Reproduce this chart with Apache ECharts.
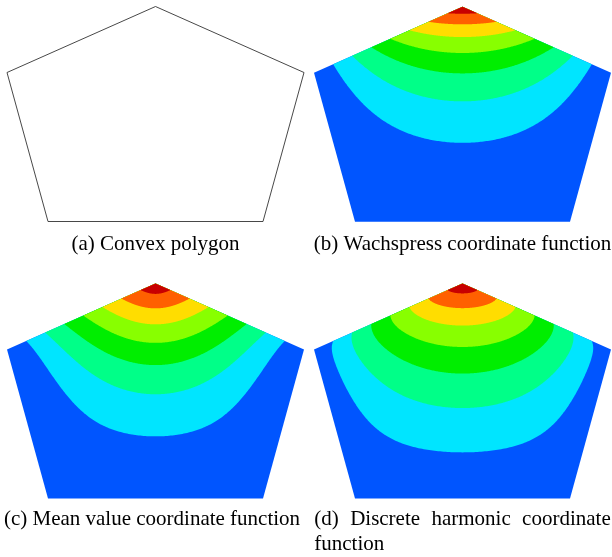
<!DOCTYPE html>
<html>
<head>
<meta charset="utf-8">
<script src="https://cdn.jsdelivr.net/npm/echarts@6/dist/echarts.min.js"></script>
<style>
  html, body { margin: 0; padding: 0; background: #fff; }
  #chart { width: 612px; height: 557px; }
</style>
</head>
<body>
<div id="chart"></div>
<script>
// Pentagon vertices (counter-clockwise, starting at the top vertex whose coordinate function is shown)
const vertexX = [148.5, 0, 41, 256, 297];
const vertexY = [215, 149, 0, 0, 149];

// Contour levels of the coordinate function and the fill colour of each band (lowest band first)
const contourLevels = [0.129, 0.257, 0.386, 0.514, 0.643, 0.771, 0.9];
const bandColors = ['#0055ff', '#00e5ff', '#00ff88', '#00ee00', '#88ff00', '#ffdd00', '#ff6000', '#c80000'];

// Exponent p of the three-point family: 0 Wachspress, 1 mean value, 2 discrete harmonic
const panelExponents = [0, 1, 2];

// Captions
const captionA = '(a) Convex polygon';
const captionB = '(b) Wachspress coordinate function';
const captionC = '(c) Mean value coordinate function';
const captionDWords = ['(d)', 'Discrete', 'harmonic', 'coordinate'];
const captionDLast = 'function';

const FONT = '21px "Liberation Serif", "Times New Roman", serif';
const N = vertexX.length;

// Barycentric coordinate of vertex 0 at (px, py) from the three-point formula
function topCoordinate(px, py, p) {
  const sx = [], sy = [], r = [], A = [], B = [], w = [];
  for (let i = 0; i < N; i++) {
    sx.push(vertexX[i] - px);
    sy.push(vertexY[i] - py);
    r.push(p === 0 ? 1 : Math.pow(Math.hypot(sx[i], sy[i]), p));
  }
  for (let i = 0; i < N; i++) {
    const j = (i + 1) % N, h = (i + N - 1) % N;
    A.push(0.5 * (sx[i] * sy[j] - sy[i] * sx[j]));
    B.push(0.5 * (sx[h] * sy[j] - sy[h] * sx[j]));
  }
  let sum = 0;
  for (let i = 0; i < N; i++) {
    const j = (i + 1) % N, h = (i + N - 1) % N;
    w.push((r[j] * A[h] - r[i] * B[i] + r[h] * A[i]) / (A[h] * A[i]));
    sum += w[i];
  }
  return w[0] / sum;
}

// Region {lambda >= c}: traced along rays from the top vertex to the three opposite edges
function superLevelRegion(c, p) {
  const tx = vertexX[0], ty = vertexY[0];
  const pts = [[tx, ty]];
  const SAMPLES = 90;
  for (let e = 1; e <= 3; e++) {
    const ax = vertexX[e], ay = vertexY[e];
    const bx = vertexX[e + 1], by = vertexY[e + 1];
    for (let s = 0; s <= SAMPLES; s++) {
      if (e > 1 && s === 0) continue;
      const u = s / SAMPLES;
      const qx = ax + (bx - ax) * u, qy = ay + (by - ay) * u;
      let t;
      if ((e === 1 && s === 0) || (e === 3 && s === SAMPLES)) {
        t = 1 - c; // coordinate is linear along the adjacent edges
      } else {
        let lo = 1e-9, hi = 1 - 1e-7;
        for (let k = 0; k < 50; k++) {
          const mid = 0.5 * (lo + hi);
          const v = topCoordinate(tx + (qx - tx) * mid, ty + (qy - ty) * mid, p);
          if (v >= c) lo = mid; else hi = mid;
        }
        t = 0.5 * (lo + hi);
      }
      pts.push([tx + (qx - tx) * t, ty + (qy - ty) * t]);
    }
  }
  return pts;
}

const pentagon = vertexX.map((x, i) => [x, vertexY[i]]);
const panelRegions = panelExponents.map(p =>
  [pentagon].concat(contourLevels.map(c => superLevelRegion(c, p))));

// Grid placement of the four panels
const gridBoxes = [
  { left: 7, top: 6.5 },
  { left: 314, top: 6.7 },
  { left: 7, top: 283.5 },
  { left: 314, top: 283.5 }
];

const grids = gridBoxes.map(g => ({ left: g.left, top: g.top, width: 297, height: 215 }));
const xAxes = gridBoxes.map((g, i) => ({ type: 'value', gridIndex: i, min: 0, max: 297, show: false }));
const yAxes = gridBoxes.map((g, i) => ({ type: 'value', gridIndex: i, min: 0, max: 215, show: false }));

const series = [{
  type: 'line',
  xAxisIndex: 0,
  yAxisIndex: 0,
  data: pentagon.concat([pentagon[0]]),
  showSymbol: false,
  symbol: 'none',
  lineStyle: { color: '#333', width: 0.9 },
  silent: true
}];

panelRegions.forEach((regions, idx) => {
  series.push({
    type: 'custom',
    xAxisIndex: idx + 1,
    yAxisIndex: idx + 1,
    silent: true,
    clip: false,
    data: regions.map((_, k) => [0, 0, k]),
    renderItem: function (params, api) {
      const k = api.value(2);
      const pts = regions[k].map(pt => api.coord(pt));
      return {
        type: 'polygon',
        z2: k,
        shape: { points: pts },
        style: { fill: bandColors[k], stroke: null }
      };
    }
  });
});

// Justified first line of caption (d)
const measureCtx = document.createElement('canvas').getContext('2d');
measureCtx.font = FONT;
const dLeft = 314.3, dRight = 610.7;
const wordWidths = captionDWords.map(w => measureCtx.measureText(w).width);
const gap = (dRight - dLeft - wordWidths.reduce((a, b) => a + b, 0)) / (captionDWords.length - 1);
let cursor = dLeft;
const captionDElems = captionDWords.map((w, i) => {
  const el = { type: 'text', x: cursor, y: 529.5, style: { text: w, font: FONT, fill: '#000', textAlign: 'left', textVerticalAlign: 'bottom', align: 'left', verticalAlign: 'bottom' } };
  cursor += wordWidths[i] + gap;
  return el;
});

function caption(text, x, y, align) {
  return { type: 'text', x: x, y: y, style: { text: text, font: FONT, fill: '#000', textAlign: align, textVerticalAlign: 'bottom', align: align, verticalAlign: 'bottom' } };
}

const chart = echarts.init(document.getElementById('chart'), null, { renderer: 'canvas' });
chart.setOption({
  animation: false,
  backgroundColor: '#fff',
  grid: grids,
  xAxis: xAxes,
  yAxis: yAxes,
  series: series,
  graphic: [
    caption(captionA, 155.5, 255, 'center'),
    caption(captionB, 462.5, 255, 'center'),
    caption(captionC, 152, 529.5, 'center'),
    caption(captionDLast, 314.3, 554.5, 'left')
  ].concat(captionDElems)
});
</script>
</body>
</html>
